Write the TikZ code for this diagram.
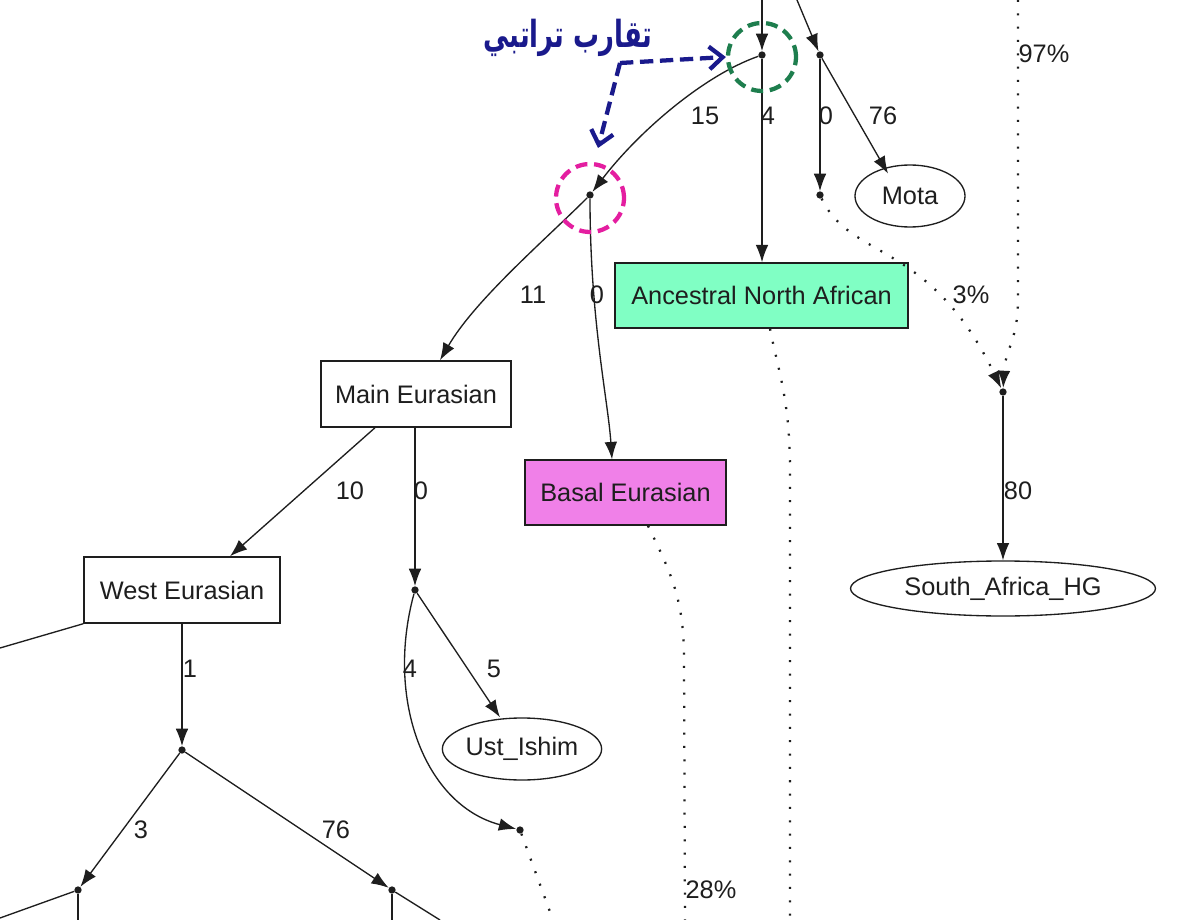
\documentclass[tikz,border=0pt]{standalone}
\usepackage{fontspec}
\setmainfont{Liberation Sans}
\newfontfamily\arabicfont[Script=Arabic]{DejaVu Sans}
\TeXXeTstate=1
\usetikzlibrary{arrows.meta,shapes.geometric}
\definecolor{ink}{RGB}{30,30,30}
\definecolor{anafill}{RGB}{128,255,196}
\definecolor{basalfill}{RGB}{240,128,232}
\definecolor{navy}{RGB}{26,26,140}
\definecolor{dgreen}{RGB}{30,126,78}
\definecolor{mag}{RGB}{228,30,160}
\tikzset{
  every node/.style={font=\fontsize{19}{21}\selectfont, text=ink},
  pt/.style={circle, fill=ink, inner sep=0pt, minimum size=5.5pt},
  box/.style={draw=ink, line width=1.1pt, rectangle, inner sep=0pt},
  ell/.style={draw=ink, line width=1pt, ellipse, inner sep=0pt},
  edge/.style={draw=ink, line width=1pt, -{Latex[length=13pt,width=9.5pt]}},
  plain/.style={draw=ink, line width=1pt},
  dotline/.style={draw=ink, line width=1.7pt, dash pattern=on 1.5pt off 8.5pt},
  dotedge/.style={dotline, -{Latex[length=13pt,width=9.5pt]}},
  lbl/.style={inner sep=0pt},
  ring/.style={line width=3.2pt, dash pattern=on 9pt off 5pt},
  hint/.style={draw=navy, line width=3.2pt, dash pattern=on 10pt off 5pt, -{Straight Barb[length=10pt,width=17pt,line width=3.2pt]}}
}
\begin{document}
\begin{tikzpicture}[x=0.75pt,y=-0.75pt]
\useasboundingbox (0,0) rectangle (1200,920);
\fill[white] (0,0) rectangle (1200,920);

% off-picture ends
\coordinate (topA) at (762,0);
\coordinate (topB) at (797,0);
\coordinate (top97) at (1018,0);
\coordinate (botANA) at (790,920);
\coordinate (botBasal) at (685,920);
\coordinate (botJ) at (553,920);
\coordinate (botH) at (78,920);
\coordinate (leftH) at (0,918);
\coordinate (botI) at (392,920);
\coordinate (diagI) at (440,920);
\coordinate (leftW) at (0,648);

% points
\node[pt] (A) at (762,55) {};
\node[pt] (B) at (820,55) {};
\node[pt] (D) at (820,195) {};
\node[pt] (C) at (590,195) {};
\node[pt] (E) at (1003,392) {};
\node[pt] (F) at (415,590) {};
\node[pt] (G) at (182,750) {};
\node[pt] (H) at (78,890) {};
\node[pt] (I) at (392,890) {};
\node[pt] (J) at (520,830) {};

% boxes
\node[box, fill=anafill, minimum width=219.75pt, minimum height=48.75pt] (ana) at (761.5,295.5) {Ancestral North African};
\node[box, fill=white, minimum width=142.5pt, minimum height=49.5pt] (main) at (416,394) {Main Eurasian};
\node[box, fill=basalfill, minimum width=150.75pt, minimum height=48.75pt] (basal) at (625.5,492.5) {Basal Eurasian};
\node[box, fill=white, minimum width=147pt, minimum height=49.5pt] (west) at (182,590) {West Eurasian};
\node[ell, minimum width=82.5pt, minimum height=46.5pt] (mota) at (910,196) {Mota};
\node[ell, minimum width=228.75pt, minimum height=41.25pt] (sah) at (1003,588.5) {South\_Africa\_HG};
\node[ell, minimum width=114pt, minimum height=46.5pt] (ust) at (522,749) {Ust\_Ishim};

% solid edges
\draw[edge] (topA) -- (A);
\draw[edge] (topB) -- (B);
\draw[edge] (A) .. controls (705,75) and (640,130) .. (C);
\draw[edge] (A) -- (ana.north -| A);
\draw[edge] (B) -- (D);
\draw[edge] (B) -- (mota.north west -| 888,0);
\draw[edge] (C) .. controls (545,240) and (475,300) .. (main.north -| 440,0);
\draw[edge] (C) .. controls (590,320) and (608,400) .. (basal.north -| 612,0);
\draw[edge] (E) -- (sah.north);
\draw[edge] (main.south -| 375,0) -- (west.north -| 230,0);
\draw[edge] (main.south -| 415,0) -- (F);
\draw[edge] (F) -- (ust.north -| 500,0);
\draw[edge] (F) .. controls (385,700) and (425,805) .. (J);
\draw[edge] (west.south) -- (G);
\draw[edge] (G) -- (H);
\draw[edge] (G) -- (I);
\draw[plain] (west.south west) -- (leftW);
\draw[plain] (H) -- (botH);
\draw[plain] (H) -- (leftH);
\draw[plain] (I) -- (botI);
\draw[plain] (I) -- (diagI);

% dotted edges
\draw[dotedge] (D) .. controls (850,260) and (930,240) .. (E);
\draw[dotedge] (top97) -- (1018,300) .. controls (1018,340) and (1005,350) .. (E);
\draw[dotline] (ana.south -| 770,0) .. controls (778,370) and (790,400) .. (790,470) -- (botANA);
\draw[dotline] (basal.south -| 648,0) .. controls (672,575) and (684,600) .. (684,660) -- (botBasal);
\draw[dotline] (J) -- (botJ);

% labels
\node[lbl] (l15) at (705,116) {15};
\node[lbl] (l4a) at (768,116) {4};
\node[lbl] (l0a) at (826,116) {0};
\node[lbl] (l76a) at (883,116) {76};
\node[lbl] (l97) at (1044,54) {97\%};
\node[lbl] (l11) at (533,295) {11};
\node[lbl] (l0b) at (597,295) {0};
\node[lbl] (l3p) at (971,295) {3\%};
\node[lbl] (l10) at (350,491) {10};
\node[lbl] (l0c) at (421,491) {0};
\node[lbl] (l80) at (1018,491) {80};
\node[lbl] (l1) at (190,669) {1};
\node[lbl] (l4b) at (410,669) {4};
\node[lbl] (l5) at (494,669) {5};
\node[lbl] (l3) at (141,830) {3};
\node[lbl] (l76b) at (336,830) {76};
\node[lbl] (l28) at (711,890) {28\%};

% annotation
\node[circle, draw=dgreen, ring, minimum size=51pt] (gring) at (762,57) {};
\node[circle, draw=mag, ring, minimum size=51pt] (pring) at (590,198) {};
\node[inner sep=0pt, text=navy, font=\fontsize{20}{24}\selectfont] (title) at (568,38) {\scalebox{0.97}[1.4]{\arabicfont\bfseries\beginR تقارب تراتبي\endR}};
\coordinate (elbow) at (620,63);
\draw[hint] (elbow) -- (gring.west);
\draw[hint] (elbow) -- (598,148);
\end{tikzpicture}
\end{document}
